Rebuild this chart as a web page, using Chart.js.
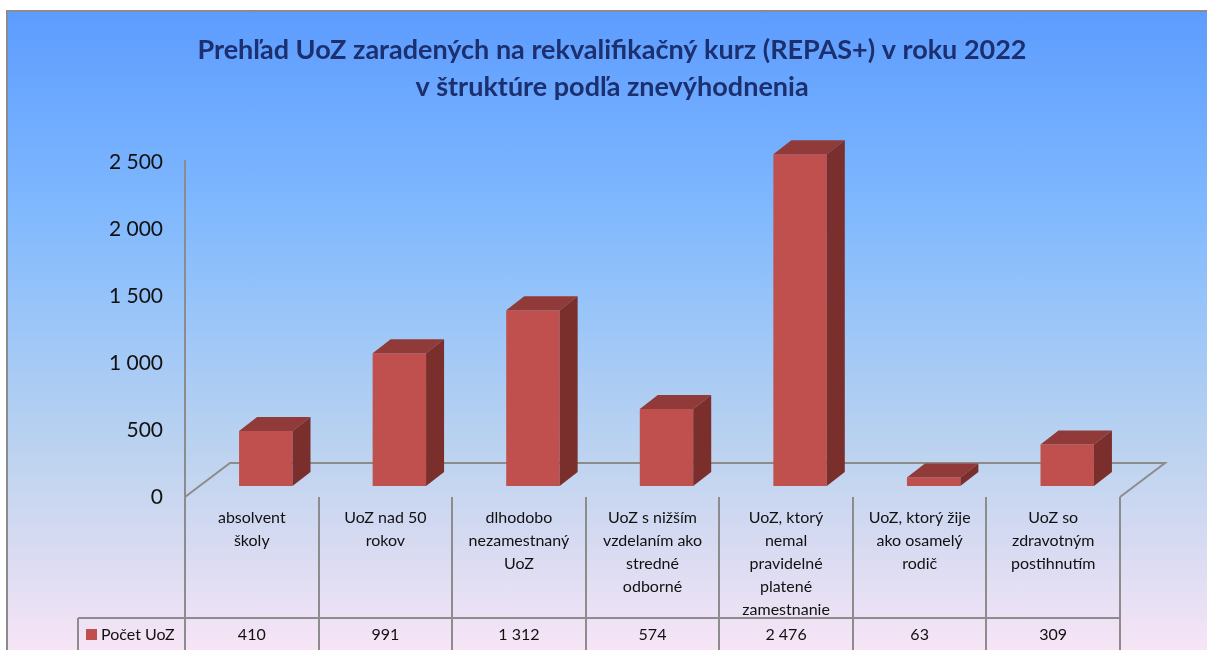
<!DOCTYPE html>
<html>
<head>
<meta charset="utf-8">
<script src="https://cdn.jsdelivr.net/npm/chart.js@4"></script>
<style>
  html, body { margin: 0; padding: 0; background: #fff; }
  #wrap { position: relative; width: 1207px; height: 650px; overflow: hidden; }
  #bg {
    position: absolute; left: 6px; top: 10px; right: -10px; bottom: -10px;
    border-top: 2px solid #8c8c8c; border-left: 2px solid #8c8c8c;
    background: linear-gradient(to bottom, #5d9cff 0%, #7fb8fe 30%, #9cc6f8 48%, #bcd3ef 68%, #dcdcf2 85%, #fae6f6 100%);
  }
  #chart { position: absolute; left: 0; top: 0; }
</style>
</head>
<body>
<div id="wrap">
  <div id="bg"></div>
  <canvas id="chart" width="1207" height="650"></canvas>
</div>
<script>
// Data
const titleLines = ['Prehľad UoZ zaradených na rekvalifikačný kurz (REPAS+) v roku 2022', 'v štruktúre podľa znevýhodnenia'];
const categories = [
    ['absolvent', 'školy'],
    ['UoZ nad 50', 'rokov'],
    ['dlhodobo', 'nezamestnaný', 'UoZ'],
    ['UoZ s nižším', 'vzdelaním ako', 'stredné', 'odborné'],
    ['UoZ, ktorý', 'nemal', 'pravidelné', 'platené', 'zamestnanie'],
    ['UoZ, ktorý žije', 'ako osamelý', 'rodič'],
    ['UoZ so', 'zdravotným', 'postihnutím']
];
const seriesName = 'Počet UoZ';
const values = [410, 991, 1312, 574, 2476, 63, 309];
const yTicks = [0, 500, 1000, 1500, 2000, 2500];

// Styles
const FONT = 'Lato, "Open Sans", sans-serif';
const barFront = '#c0504d';
const barTop = '#903b39';
const barSide = '#7a2f2d';
const lineGrey = '#8c8c8c';

// 3D geometry (pixels)
const depth = { dx: 45, dy: -34 };   // floor depth
const barDepth = { dx: 18, dy: -14 }; // bar box depth
const barShift = { dx: 14, dy: -11 }; // bar position inside floor depth

function fmt(v) {
    return String(v).replace(/\B(?=(\d{3})+(?!\d))/g, ' ');
}

const threeD = {
    id: 'threeD',
    beforeDatasetsDraw(chart) {
        const ctx = chart.ctx;
        const area = chart.chartArea;
        const y = chart.scales.y;
        const fx0 = area.left - barShift.dx;
        const fx1 = area.right - barShift.dx;
        const fy = y.getPixelForValue(0) - barShift.dy;

        ctx.save();
        ctx.strokeStyle = lineGrey;
        ctx.lineWidth = 2;
        // floor
        ctx.beginPath();
        ctx.moveTo(fx0, fy);
        ctx.lineTo(fx0 + depth.dx, fy + depth.dy);
        ctx.lineTo(fx1 + depth.dx, fy + depth.dy);
        ctx.lineTo(fx1, fy);
        ctx.stroke();
        // value axis line
        ctx.beginPath();
        ctx.moveTo(fx0, fy);
        ctx.lineTo(fx0, y.getPixelForValue(2500) + 9);
        ctx.stroke();
        ctx.restore();
    },
    afterDatasetsDraw(chart) {
        const ctx = chart.ctx;
        const meta = chart.getDatasetMeta(0);
        ctx.save();
        meta.data.forEach(bar => {
            const l = bar.x - bar.width / 2;
            const r = bar.x + bar.width / 2;
            const t = bar.y;
            const b = bar.base;
            // top face
            ctx.fillStyle = barTop;
            ctx.beginPath();
            ctx.moveTo(l, t);
            ctx.lineTo(l + barDepth.dx, t + barDepth.dy);
            ctx.lineTo(r + barDepth.dx, t + barDepth.dy);
            ctx.lineTo(r, t);
            ctx.closePath();
            ctx.fill();
            // side face
            ctx.fillStyle = barSide;
            ctx.beginPath();
            ctx.moveTo(r, t);
            ctx.lineTo(r + barDepth.dx, t + barDepth.dy);
            ctx.lineTo(r + barDepth.dx, b + barDepth.dy);
            ctx.lineTo(r, b);
            ctx.closePath();
            ctx.fill();
        });
        ctx.restore();
    },
    afterDraw(chart) {
        const ctx = chart.ctx;
        const area = chart.chartArea;
        const y = chart.scales.y;
        const x0 = area.left - barShift.dx;
        const x1 = area.right - barShift.dx;
        const colW = (x1 - x0) / categories.length;
        const top = y.getPixelForValue(0) - barShift.dy;
        const rowY = 618;
        const legendX = 78;

        ctx.save();
        // title
        ctx.fillStyle = '#1c2f6e';
        ctx.font = 'bold 27px ' + FONT;
        ctx.textAlign = 'center';
        ctx.textBaseline = 'middle';
        ctx.fillText(titleLines[0], 612, 50);
        ctx.fillText(titleLines[1], 612, 87);

        // table grid
        ctx.strokeStyle = lineGrey;
        ctx.lineWidth = 2;
        ctx.beginPath();
        for (let i = 0; i <= categories.length; i++) {
            const cx = Math.round(x0 + colW * i);
            ctx.moveTo(cx, top);
            ctx.lineTo(cx, 660);
        }
        ctx.moveTo(legendX, rowY);
        ctx.lineTo(x1, rowY);
        ctx.moveTo(legendX, rowY);
        ctx.lineTo(legendX, 660);
        ctx.stroke();

        // category labels
        ctx.fillStyle = '#111';
        ctx.font = '16px ' + FONT;
        categories.forEach((lines, i) => {
            const cx = x0 + colW * (i + 0.5);
            lines.forEach((txt, j) => {
                ctx.fillText(txt, cx, 518 + j * 23);
            });
            ctx.fillText(fmt(values[i]), cx, 635);
        });

        // legend key
        ctx.fillStyle = barFront;
        ctx.fillRect(86, 629, 11, 11);
        ctx.fillStyle = '#111';
        ctx.textAlign = 'left';
        ctx.fillText(seriesName, 101, 635);
        ctx.restore();
    }
};

new Chart(document.getElementById('chart'), {
    type: 'bar',
    data: {
        labels: categories,
        datasets: [{
            label: seriesName,
            data: values,
            backgroundColor: barFront,
            borderWidth: 0,
            barPercentage: 1,
            categoryPercentage: 0.4
        }]
    },
    options: {
        responsive: false,
        animation: false,
        layout: { padding: { top: 151, bottom: 164, right: 1207 - 1134, left: 0 } },
        plugins: {
            legend: { display: false },
            title: { display: false },
            tooltip: { enabled: false }
        },
        scales: {
            x: { display: false },
            y: {
                min: 0,
                max: 2500,
                afterFit(scale) { scale.width = 199; },
                afterBuildTicks(scale) { scale.ticks = yTicks.map(v => ({ value: v })); },
                grid: { display: false, drawTicks: false },
                border: { display: false },
                ticks: {
                    padding: 36,
                    labelOffset: 11,
                    color: '#111',
                    font: { family: FONT, size: 21 },
                    callback: v => fmt(v)
                }
            }
        }
    },
    plugins: [threeD]
});
</script>
</body>
</html>
